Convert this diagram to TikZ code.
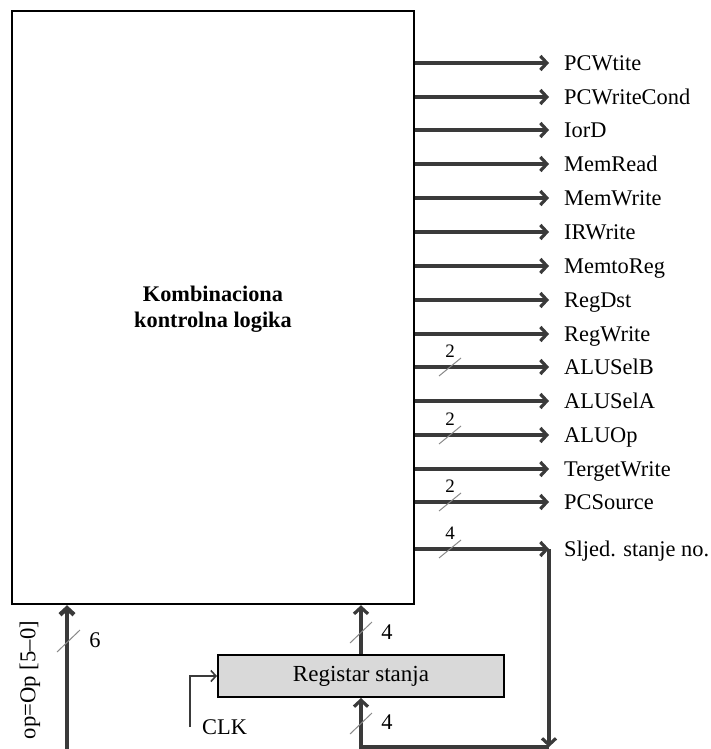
\documentclass[tikz,border=0pt]{standalone}
\usepackage{fontspec}
\setmainfont{Liberation Serif}
\usetikzlibrary{arrows.meta}
\definecolor{ln}{HTML}{3A3A3A}
\definecolor{regfill}{HTML}{D9D9D9}
\begin{document}
\begin{tikzpicture}[x=1pt,y=-1pt,
  sig/.style={draw=ln, line width=3.2pt, -{Straight Barb[length=6.5pt,width=14pt]}},
  lbl/.style={anchor=base west, inner sep=0, font=\fontsize{22.4}{26}\selectfont},
  num/.style={inner sep=0, font=\fontsize{19}{22}\selectfont},
  big/.style={inner sep=0, font=\fontsize{22.4}{26}\selectfont},
  slashmark/.style={draw=ln!60, line width=1pt}]
\useasboundingbox (0,0) rectangle (710,749);
\node[draw=black, line width=2.4pt, minimum width=402pt, minimum height=593pt, inner sep=0] (main) at (213,307.5) {};
\node[font=\bfseries\fontsize{22.3}{25.5}\selectfont, align=center] (title) at (213,309) {Kombinaciona\\kontrolna logika};
\foreach \y/\t [count=\i] in {63/PCWtite,97/PCWriteCond,130/IorD,164/MemRead,198/MemWrite,232/IRWrite,266/MemtoReg,300/RegDst,334/RegWrite,367/ALUSelB,401/ALUSelA,435/ALUOp,469/TergetWrite,502/PCSource,549/Sljed. stanje no.}{
  \node[lbl] (l\i) at (564,\y+7.8) {\t};
  \coordinate (t\i) at (549,\y);
  \draw[sig] (main.east |- t\i) -- (t\i);
}
\foreach \i/\n in {10/2,12/2,14/2,15/4}{
  \coordinate (s\i) at (450,0 |- t\i);
  \draw[slashmark] ([shift={(-11,9)}]s\i) -- ([shift={(11,-9)}]s\i);
  \node[num] (n\i) at ([shift={(0,-16)}]s\i) {\n};
}
% register
\node[draw=black, line width=2pt, fill=regfill, minimum width=286pt, minimum height=42pt, inner sep=0, font=\fontsize{23}{26}\selectfont] (reg) at (361,676) {Registar stanja};
\draw[sig] (reg.north) -- (reg.north |- main.south);
\coordinate (ra) at (361,632);
\draw[slashmark] ([shift={(-11,11)}]ra) -- ([shift={(11,-10)}]ra);
\node[big] (na) at (387,632) {4};
% feedback
\coordinate (c1) at (549,747);
\coordinate (c2) at (361,747);
\draw[sig] (t15) -- (c1);
\draw[sig] (c1) -- (c2) -- (reg.south);
\coordinate (rb) at (361,723);
\draw[slashmark] ([shift={(-11,11)}]rb) -- ([shift={(11,-10)}]rb);
\node[big] (nb) at (387,722) {4};
% CLK
\coordinate (clk) at (190,727);
\draw[draw=ln, line width=1.6pt, -{Straight Barb[length=5pt,width=11pt]}] (clk) -- (clk |- reg.west) -- (reg.west);
\node[big, anchor=west] (clkl) at (202,727) {CLK};
% op input
\coordinate (opin) at (67,752);
\draw[sig, line width=4.4pt] (opin) -- (opin |- main.south);
\coordinate (so) at (68,641);
\draw[slashmark] ([shift={(-11,11)}]so) -- ([shift={(12,-11)}]so);
\node[big] (no) at (95,640) {6};
\node[rotate=90, inner sep=0, font=\fontsize{22.7}{26}\selectfont] (opl) at (30,680) {op=Op [5–0]};
\end{tikzpicture}
\end{document}
